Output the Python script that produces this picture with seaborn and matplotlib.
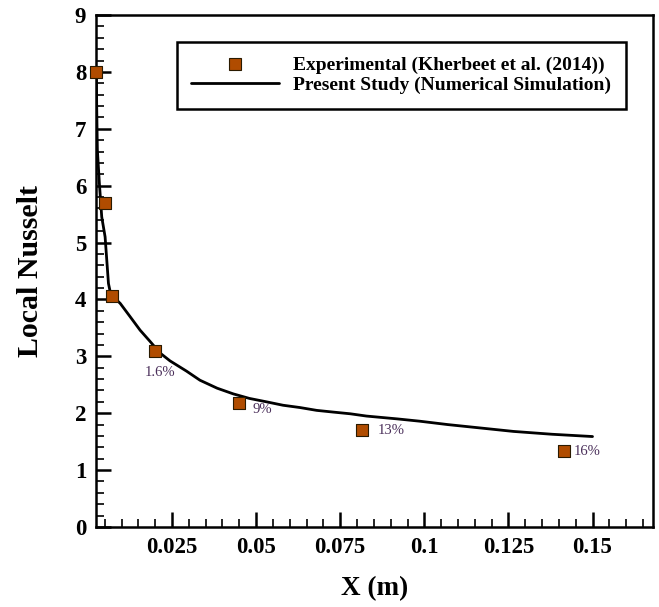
import matplotlib
matplotlib.use("Agg")
import matplotlib.pyplot as plt
import seaborn as sns
import pandas as pd
from matplotlib.ticker import MultipleLocator, FixedLocator
from matplotlib.lines import Line2D

# Experimental data (Kherbeet et al. 2014)
exp_x = [0.0024, 0.0050, 0.0073, 0.0200, 0.0450, 0.0815, 0.1415]
exp_nu = [8.00, 5.69, 4.06, 3.09, 2.18, 1.71, 1.34]

# Numerical simulation curve
sim_x = [0.0025, 0.0026, 0.0028, 0.0034, 0.0041, 0.0051, 0.0056, 0.0061,
         0.0067, 0.0075, 0.0096, 0.0125, 0.0155, 0.0185, 0.0214, 0.0244,
         0.0293, 0.0333, 0.0384, 0.0432, 0.0480, 0.0531, 0.0580, 0.0630,
         0.0680, 0.0729, 0.0780, 0.0828, 0.0920, 0.0986, 0.1070, 0.1184,
         0.1265, 0.1380, 0.1500]
sim_nu = [8.00, 7.40, 6.63, 6.04, 5.45, 5.10, 4.69, 4.28,
          4.11, 4.05, 3.93, 3.70, 3.46, 3.26, 3.06, 2.92,
          2.74, 2.58, 2.44, 2.34, 2.26, 2.20, 2.14, 2.10,
          2.05, 2.02, 1.99, 1.95, 1.90, 1.86, 1.80, 1.73,
          1.68, 1.63, 1.59]

# Error annotations
err_labels = ["1.6%", "9%", "13%", "16%"]
err_x = [0.0214, 0.0490, 0.0862, 0.1444]
err_y = [2.72, 2.07, 1.69, 1.32]
err_ha = ["center", "left", "left", "left"]

sns.set_style("ticks")
plt.rcParams['font.family'] = ['Liberation Serif', 'DejaVu Serif']
plt.rcParams['text.color'] = 'black'
plt.rcParams['axes.labelcolor'] = 'black'
plt.rcParams['xtick.color'] = 'black'
plt.rcParams['ytick.color'] = 'black'

fig = plt.figure(figsize=(6.59, 6.07), dpi=100)
ax = fig.add_axes([0.1457, 0.1318, 0.8453, 0.8435])

sim_df = pd.DataFrame({"x": sim_x, "nu": sim_nu})
exp_df = pd.DataFrame({"x": exp_x, "nu": exp_nu})

sns.lineplot(data=sim_df, x="x", y="nu", ax=ax, color="black", lw=2.0,
             sort=False, estimator=None)
sns.scatterplot(data=exp_df, x="x", y="nu", ax=ax, marker="s", s=75,
                color="#b04c00", edgecolor="#2a1a00", linewidth=0.8,
                zorder=5, clip_on=False)

for t, xx, yy, ha in zip(err_labels, err_x, err_y, err_ha):
    ax.text(xx, yy, t, ha=ha, va="center", fontsize=10.5, color="#4a2f5a")

ax.set_xlim(0.0024, 0.168)
ax.set_ylim(0, 9)
ax.xaxis.set_major_locator(FixedLocator([0.025, 0.05, 0.075, 0.1, 0.125, 0.15]))
ax.set_xticklabels(["0.025", "0.05", "0.075", "0.1", "0.125", "0.15"])
ax.xaxis.set_minor_locator(MultipleLocator(0.005))
ax.yaxis.set_major_locator(MultipleLocator(1))
ax.yaxis.set_minor_locator(MultipleLocator(0.2))

ax.tick_params(which="major", direction="in", length=11, width=1.8,
               labelsize=16.5, pad=7, colors="black")
ax.tick_params(which="minor", direction="in", length=6, width=1.2, colors="black")
for lab in ax.get_xticklabels() + ax.get_yticklabels():
    lab.set_fontweight("bold")

for sp in ax.spines.values():
    sp.set_visible(True)
    sp.set_linewidth(1.8)
    sp.set_color("black")

ax.set_xlabel("X (m)", fontsize=19.5, fontweight="bold", labelpad=13, color="black")
ax.set_ylabel("Local Nusselt", fontsize=21.5, fontweight="bold", labelpad=22, color="black")

handles = [
    Line2D([], [], marker="s", ls="none", markersize=8,
           markerfacecolor="#b04c00", markeredgecolor="#2a1a00", markeredgewidth=0.8),
    Line2D([], [], color="black", lw=2.0),
]
labels = ["Experimental (Kherbeet et al. (2014))",
          "Present Study (Numerical Simulation)"]
leg = ax.legend(handles, labels, loc="upper right", bbox_to_anchor=(0.951, 0.947),
                frameon=True, fancybox=False, framealpha=1, edgecolor="black",
                prop={"family": "Liberation Serif", "weight": "bold", "size": 14},
                handlelength=4.5, handletextpad=0.75, borderpad=0.75,
                labelspacing=0.1, borderaxespad=0)
leg.get_frame().set_linewidth(1.8)
for t in leg.get_texts():
    t.set_color("black")

fig.savefig("out.png", dpi=100)
